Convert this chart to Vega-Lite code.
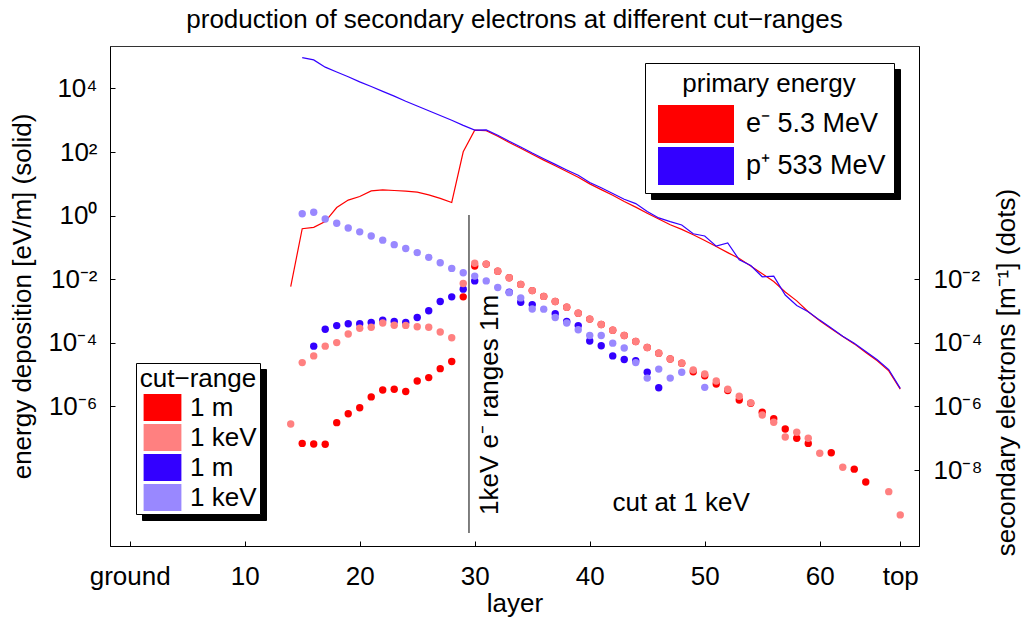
{
  "$schema": "https://vega.github.io/schema/vega-lite/v6.json",
  "width": 809,
  "height": 500,
  "autosize": {"type": "none"},
  "padding": {"left": 110, "top": 46, "right": 102, "bottom": 76},
  "background": "white",
  "title": {
    "text": "production of secondary electrons at different cut−ranges",
    "font": "Liberation Sans",
    "fontSize": 26,
    "fontWeight": "normal",
    "color": "black",
    "anchor": "middle",
    "frame": "group",
    "baseline": "alphabetic",
    "offset": -8
  },
  "datasets": {
    "lines": [
      {"layer": 14, "primary": "e⁻ 5.3 MeV", "value": 0.0059},
      {"layer": 15, "primary": "e⁻ 5.3 MeV", "value": 0.39},
      {"layer": 16, "primary": "e⁻ 5.3 MeV", "value": 0.43},
      {"layer": 17, "primary": "e⁻ 5.3 MeV", "value": 0.65},
      {"layer": 18, "primary": "e⁻ 5.3 MeV", "value": 1.8},
      {"layer": 19, "primary": "e⁻ 5.3 MeV", "value": 3.1},
      {"layer": 20, "primary": "e⁻ 5.3 MeV", "value": 4.0},
      {"layer": 21, "primary": "e⁻ 5.3 MeV", "value": 6.0},
      {"layer": 22, "primary": "e⁻ 5.3 MeV", "value": 6.5},
      {"layer": 23, "primary": "e⁻ 5.3 MeV", "value": 6.2},
      {"layer": 24, "primary": "e⁻ 5.3 MeV", "value": 5.9},
      {"layer": 25, "primary": "e⁻ 5.3 MeV", "value": 5.5},
      {"layer": 26, "primary": "e⁻ 5.3 MeV", "value": 4.5},
      {"layer": 27, "primary": "e⁻ 5.3 MeV", "value": 3.5},
      {"layer": 28, "primary": "e⁻ 5.3 MeV", "value": 2.6},
      {"layer": 29, "primary": "e⁻ 5.3 MeV", "value": 102},
      {"layer": 30, "primary": "e⁻ 5.3 MeV", "value": 490},
      {"layer": 31, "primary": "e⁻ 5.3 MeV", "value": 468},
      {"layer": 32, "primary": "e⁻ 5.3 MeV", "value": 316},
      {"layer": 33, "primary": "e⁻ 5.3 MeV", "value": 200},
      {"layer": 34, "primary": "e⁻ 5.3 MeV", "value": 132},
      {"layer": 35, "primary": "e⁻ 5.3 MeV", "value": 85},
      {"layer": 36, "primary": "e⁻ 5.3 MeV", "value": 56},
      {"layer": 37, "primary": "e⁻ 5.3 MeV", "value": 37},
      {"layer": 38, "primary": "e⁻ 5.3 MeV", "value": 24.5},
      {"layer": 39, "primary": "e⁻ 5.3 MeV", "value": 16.2},
      {"layer": 40, "primary": "e⁻ 5.3 MeV", "value": 10},
      {"layer": 41, "primary": "e⁻ 5.3 MeV", "value": 6.6},
      {"layer": 42, "primary": "e⁻ 5.3 MeV", "value": 4.4},
      {"layer": 43, "primary": "e⁻ 5.3 MeV", "value": 2.8},
      {"layer": 44, "primary": "e⁻ 5.3 MeV", "value": 1.86},
      {"layer": 45, "primary": "e⁻ 5.3 MeV", "value": 1.2},
      {"layer": 46, "primary": "e⁻ 5.3 MeV", "value": 0.79},
      {"layer": 47, "primary": "e⁻ 5.3 MeV", "value": 0.52},
      {"layer": 48, "primary": "e⁻ 5.3 MeV", "value": 0.37},
      {"layer": 49, "primary": "e⁻ 5.3 MeV", "value": 0.25},
      {"layer": 50, "primary": "e⁻ 5.3 MeV", "value": 0.166},
      {"layer": 51, "primary": "e⁻ 5.3 MeV", "value": 0.107},
      {"layer": 52, "primary": "e⁻ 5.3 MeV", "value": 0.069},
      {"layer": 53, "primary": "e⁻ 5.3 MeV", "value": 0.045},
      {"layer": 54, "primary": "e⁻ 5.3 MeV", "value": 0.026},
      {"layer": 55, "primary": "e⁻ 5.3 MeV", "value": 0.015},
      {"layer": 56, "primary": "e⁻ 5.3 MeV", "value": 0.0085},
      {"layer": 57, "primary": "e⁻ 5.3 MeV", "value": 0.004},
      {"layer": 58, "primary": "e⁻ 5.3 MeV", "value": 0.0021},
      {"layer": 59, "primary": "e⁻ 5.3 MeV", "value": 0.00095},
      {"layer": 60, "primary": "e⁻ 5.3 MeV", "value": 0.0005},
      {"layer": 61, "primary": "e⁻ 5.3 MeV", "value": 0.00028},
      {"layer": 62, "primary": "e⁻ 5.3 MeV", "value": 0.00016},
      {"layer": 63, "primary": "e⁻ 5.3 MeV", "value": 0.000093},
      {"layer": 64, "primary": "e⁻ 5.3 MeV", "value": 0.00005},
      {"layer": 65, "primary": "e⁻ 5.3 MeV", "value": 0.0000275},
      {"layer": 66, "primary": "e⁻ 5.3 MeV", "value": 0.0000132},
      {"layer": 67, "primary": "e⁻ 5.3 MeV", "value": 0.0000035},
      {"layer": 15, "primary": "p⁺ 533 MeV", "value": 93000},
      {"layer": 16, "primary": "p⁺ 533 MeV", "value": 79400},
      {"layer": 17, "primary": "p⁺ 533 MeV", "value": 46800},
      {"layer": 18, "primary": "p⁺ 533 MeV", "value": 33100},
      {"layer": 19, "primary": "p⁺ 533 MeV", "value": 23400},
      {"layer": 20, "primary": "p⁺ 533 MeV", "value": 16200},
      {"layer": 21, "primary": "p⁺ 533 MeV", "value": 11500},
      {"layer": 22, "primary": "p⁺ 533 MeV", "value": 8100},
      {"layer": 23, "primary": "p⁺ 533 MeV", "value": 5750},
      {"layer": 24, "primary": "p⁺ 533 MeV", "value": 3980},
      {"layer": 25, "primary": "p⁺ 533 MeV", "value": 2820},
      {"layer": 26, "primary": "p⁺ 533 MeV", "value": 2000},
      {"layer": 27, "primary": "p⁺ 533 MeV", "value": 1410},
      {"layer": 28, "primary": "p⁺ 533 MeV", "value": 1000},
      {"layer": 29, "primary": "p⁺ 533 MeV", "value": 690},
      {"layer": 30, "primary": "p⁺ 533 MeV", "value": 490},
      {"layer": 31, "primary": "p⁺ 533 MeV", "value": 500},
      {"layer": 32, "primary": "p⁺ 533 MeV", "value": 340},
      {"layer": 33, "primary": "p⁺ 533 MeV", "value": 219},
      {"layer": 34, "primary": "p⁺ 533 MeV", "value": 145},
      {"layer": 35, "primary": "p⁺ 533 MeV", "value": 93},
      {"layer": 36, "primary": "p⁺ 533 MeV", "value": 62},
      {"layer": 37, "primary": "p⁺ 533 MeV", "value": 41},
      {"layer": 38, "primary": "p⁺ 533 MeV", "value": 27.5},
      {"layer": 39, "primary": "p⁺ 533 MeV", "value": 18.6},
      {"layer": 40, "primary": "p⁺ 533 MeV", "value": 11},
      {"layer": 41, "primary": "p⁺ 533 MeV", "value": 7.6},
      {"layer": 42, "primary": "p⁺ 533 MeV", "value": 5.0},
      {"layer": 43, "primary": "p⁺ 533 MeV", "value": 3.3},
      {"layer": 44, "primary": "p⁺ 533 MeV", "value": 2.4},
      {"layer": 45, "primary": "p⁺ 533 MeV", "value": 1.35},
      {"layer": 46, "primary": "p⁺ 533 MeV", "value": 0.85},
      {"layer": 47, "primary": "p⁺ 533 MeV", "value": 0.65},
      {"layer": 48, "primary": "p⁺ 533 MeV", "value": 0.51},
      {"layer": 49, "primary": "p⁺ 533 MeV", "value": 0.27},
      {"layer": 50, "primary": "p⁺ 533 MeV", "value": 0.23},
      {"layer": 51, "primary": "p⁺ 533 MeV", "value": 0.11},
      {"layer": 52, "primary": "p⁺ 533 MeV", "value": 0.14},
      {"layer": 53, "primary": "p⁺ 533 MeV", "value": 0.041},
      {"layer": 54, "primary": "p⁺ 533 MeV", "value": 0.027},
      {"layer": 55, "primary": "p⁺ 533 MeV", "value": 0.012},
      {"layer": 56, "primary": "p⁺ 533 MeV", "value": 0.0126},
      {"layer": 57, "primary": "p⁺ 533 MeV", "value": 0.0032},
      {"layer": 58, "primary": "p⁺ 533 MeV", "value": 0.0015},
      {"layer": 59, "primary": "p⁺ 533 MeV", "value": 0.00095},
      {"layer": 60, "primary": "p⁺ 533 MeV", "value": 0.00052},
      {"layer": 61, "primary": "p⁺ 533 MeV", "value": 0.000295},
      {"layer": 62, "primary": "p⁺ 533 MeV", "value": 0.000162},
      {"layer": 63, "primary": "p⁺ 533 MeV", "value": 0.000098},
      {"layer": 64, "primary": "p⁺ 533 MeV", "value": 0.000054},
      {"layer": 65, "primary": "p⁺ 533 MeV", "value": 0.0000295},
      {"layer": 66, "primary": "p⁺ 533 MeV", "value": 0.0000145},
      {"layer": 67, "primary": "p⁺ 533 MeV", "value": 0.0000037}
    ],
    "dots": [
      {"layer": 15, "series": "e- 1 m", "value": 6.9e-8},
      {"layer": 16, "series": "e- 1 m", "value": 6.6e-8},
      {"layer": 17, "series": "e- 1 m", "value": 6.5e-8},
      {"layer": 18, "series": "e- 1 m", "value": 3.1e-7},
      {"layer": 19, "series": "e- 1 m", "value": 5.9e-7},
      {"layer": 20, "series": "e- 1 m", "value": 9.1e-7},
      {"layer": 21, "series": "e- 1 m", "value": 2.0e-6},
      {"layer": 22, "series": "e- 1 m", "value": 3.3e-6},
      {"layer": 23, "series": "e- 1 m", "value": 3.5e-6},
      {"layer": 24, "series": "e- 1 m", "value": 2.95e-6},
      {"layer": 25, "series": "e- 1 m", "value": 6.3e-6},
      {"layer": 26, "series": "e- 1 m", "value": 8.1e-6},
      {"layer": 27, "series": "e- 1 m", "value": 1.55e-5},
      {"layer": 28, "series": "e- 1 m", "value": 2.6e-5},
      {"layer": 29, "series": "e- 1 m", "value": 2.8e-3},
      {"layer": 30, "series": "e- 1 m", "value": 2.6e-2},
      {"layer": 31, "series": "e- 1 m", "value": 3.0e-2},
      {"layer": 32, "series": "e- 1 m", "value": 1.8e-2},
      {"layer": 33, "series": "e- 1 m", "value": 1.12e-2},
      {"layer": 34, "series": "e- 1 m", "value": 6.9e-3},
      {"layer": 35, "series": "e- 1 m", "value": 4.4e-3},
      {"layer": 36, "series": "e- 1 m", "value": 2.9e-3},
      {"layer": 37, "series": "e- 1 m", "value": 2.0e-3},
      {"layer": 38, "series": "e- 1 m", "value": 1.32e-3},
      {"layer": 39, "series": "e- 1 m", "value": 8.5e-4},
      {"layer": 40, "series": "e- 1 m", "value": 5.6e-4},
      {"layer": 41, "series": "e- 1 m", "value": 3.8e-4},
      {"layer": 42, "series": "e- 1 m", "value": 2.5e-4},
      {"layer": 43, "series": "e- 1 m", "value": 1.7e-4},
      {"layer": 44, "series": "e- 1 m", "value": 1.1e-4},
      {"layer": 45, "series": "e- 1 m", "value": 7.2e-5},
      {"layer": 46, "series": "e- 1 m", "value": 4.7e-5},
      {"layer": 47, "series": "e- 1 m", "value": 3.1e-5},
      {"layer": 48, "series": "e- 1 m", "value": 2.3e-5},
      {"layer": 49, "series": "e- 1 m", "value": 1.23e-5},
      {"layer": 50, "series": "e- 1 m", "value": 9.3e-6},
      {"layer": 51, "series": "e- 1 m", "value": 5.1e-6},
      {"layer": 52, "series": "e- 1 m", "value": 3.2e-6},
      {"layer": 53, "series": "e- 1 m", "value": 1.6e-6},
      {"layer": 54, "series": "e- 1 m", "value": 1.26e-6},
      {"layer": 55, "series": "e- 1 m", "value": 6.6e-7},
      {"layer": 56, "series": "e- 1 m", "value": 4.1e-7},
      {"layer": 57, "series": "e- 1 m", "value": 1.95e-7},
      {"layer": 58, "series": "e- 1 m", "value": 1.0e-7},
      {"layer": 59, "series": "e- 1 m", "value": 6.9e-8},
      {"layer": 61, "series": "e- 1 m", "value": 3.5e-8},
      {"layer": 63, "series": "e- 1 m", "value": 1.07e-8},
      {"layer": 64, "series": "e- 1 m", "value": 4.2e-9},
      {"layer": 16, "series": "p+ 1 m", "value": 7.9e-5},
      {"layer": 17, "series": "p+ 1 m", "value": 2.7e-4},
      {"layer": 18, "series": "p+ 1 m", "value": 3.5e-4},
      {"layer": 19, "series": "p+ 1 m", "value": 4.0e-4},
      {"layer": 20, "series": "p+ 1 m", "value": 4.0e-4},
      {"layer": 21, "series": "p+ 1 m", "value": 4.4e-4},
      {"layer": 22, "series": "p+ 1 m", "value": 5.2e-4},
      {"layer": 23, "series": "p+ 1 m", "value": 4.7e-4},
      {"layer": 24, "series": "p+ 1 m", "value": 4.4e-4},
      {"layer": 25, "series": "p+ 1 m", "value": 6.3e-4},
      {"layer": 26, "series": "p+ 1 m", "value": 1.02e-3},
      {"layer": 27, "series": "p+ 1 m", "value": 2.0e-3},
      {"layer": 28, "series": "p+ 1 m", "value": 2.8e-3},
      {"layer": 29, "series": "p+ 1 m", "value": 4.9e-3},
      {"layer": 30, "series": "p+ 1 m", "value": 8.9e-3},
      {"layer": 33, "series": "p+ 1 m", "value": 3.9e-3},
      {"layer": 34, "series": "p+ 1 m", "value": 1.9e-3},
      {"layer": 35, "series": "p+ 1 m", "value": 1.6e-3},
      {"layer": 37, "series": "p+ 1 m", "value": 8.3e-4},
      {"layer": 38, "series": "p+ 1 m", "value": 4.7e-4},
      {"layer": 39, "series": "p+ 1 m", "value": 3.5e-4},
      {"layer": 40, "series": "p+ 1 m", "value": 1.15e-4},
      {"layer": 41, "series": "p+ 1 m", "value": 8.1e-5},
      {"layer": 42, "series": "p+ 1 m", "value": 3.9e-5},
      {"layer": 43, "series": "p+ 1 m", "value": 3.0e-5},
      {"layer": 44, "series": "p+ 1 m", "value": 2.75e-5},
      {"layer": 45, "series": "p+ 1 m", "value": 1.2e-5},
      {"layer": 46, "series": "p+ 1 m", "value": 3.9e-6},
      {"layer": 14, "series": "e- 1 keV", "value": 2.8e-7},
      {"layer": 15, "series": "e- 1 keV", "value": 2.4e-5},
      {"layer": 16, "series": "e- 1 keV", "value": 3.9e-5},
      {"layer": 17, "series": "e- 1 keV", "value": 7.9e-5},
      {"layer": 18, "series": "e- 1 keV", "value": 1.02e-4},
      {"layer": 19, "series": "e- 1 keV", "value": 1.9e-4},
      {"layer": 20, "series": "e- 1 keV", "value": 2.9e-4},
      {"layer": 21, "series": "e- 1 keV", "value": 3.1e-4},
      {"layer": 22, "series": "e- 1 keV", "value": 4.2e-4},
      {"layer": 23, "series": "e- 1 keV", "value": 3.6e-4},
      {"layer": 24, "series": "e- 1 keV", "value": 3.55e-4},
      {"layer": 25, "series": "e- 1 keV", "value": 3.2e-4},
      {"layer": 26, "series": "e- 1 keV", "value": 3.1e-4},
      {"layer": 27, "series": "e- 1 keV", "value": 2.2e-4},
      {"layer": 28, "series": "e- 1 keV", "value": 1.45e-4},
      {"layer": 29, "series": "e- 1 keV", "value": 7.4e-3},
      {"layer": 30, "series": "e- 1 keV", "value": 3.2e-2},
      {"layer": 31, "series": "e- 1 keV", "value": 3.0e-2},
      {"layer": 32, "series": "e- 1 keV", "value": 1.8e-2},
      {"layer": 33, "series": "e- 1 keV", "value": 1.12e-2},
      {"layer": 34, "series": "e- 1 keV", "value": 6.9e-3},
      {"layer": 35, "series": "e- 1 keV", "value": 4.4e-3},
      {"layer": 36, "series": "e- 1 keV", "value": 2.9e-3},
      {"layer": 37, "series": "e- 1 keV", "value": 2.0e-3},
      {"layer": 38, "series": "e- 1 keV", "value": 1.32e-3},
      {"layer": 39, "series": "e- 1 keV", "value": 8.5e-4},
      {"layer": 40, "series": "e- 1 keV", "value": 5.6e-4},
      {"layer": 41, "series": "e- 1 keV", "value": 3.8e-4},
      {"layer": 42, "series": "e- 1 keV", "value": 2.5e-4},
      {"layer": 43, "series": "e- 1 keV", "value": 1.7e-4},
      {"layer": 44, "series": "e- 1 keV", "value": 1.1e-4},
      {"layer": 45, "series": "e- 1 keV", "value": 7.2e-5},
      {"layer": 46, "series": "e- 1 keV", "value": 4.7e-5},
      {"layer": 47, "series": "e- 1 keV", "value": 3.1e-5},
      {"layer": 48, "series": "e- 1 keV", "value": 2.3e-5},
      {"layer": 49, "series": "e- 1 keV", "value": 1.4e-5},
      {"layer": 50, "series": "e- 1 keV", "value": 1.05e-5},
      {"layer": 51, "series": "e- 1 keV", "value": 6.3e-6},
      {"layer": 52, "series": "e- 1 keV", "value": 3.5e-6},
      {"layer": 53, "series": "e- 1 keV", "value": 2.1e-6},
      {"layer": 54, "series": "e- 1 keV", "value": 1.3e-6},
      {"layer": 55, "series": "e- 1 keV", "value": 5.4e-7},
      {"layer": 56, "series": "e- 1 keV", "value": 3.2e-7},
      {"layer": 57, "series": "e- 1 keV", "value": 1.1e-7},
      {"layer": 58, "series": "e- 1 keV", "value": 1.55e-7},
      {"layer": 59, "series": "e- 1 keV", "value": 1.0e-7},
      {"layer": 60, "series": "e- 1 keV", "value": 3.4e-8},
      {"layer": 62, "series": "e- 1 keV", "value": 1.23e-8},
      {"layer": 66, "series": "e- 1 keV", "value": 2.1e-9},
      {"layer": 67, "series": "e- 1 keV", "value": 3.9e-10},
      {"layer": 15, "series": "p+ 1 keV", "value": 1.15},
      {"layer": 16, "series": "p+ 1 keV", "value": 1.29},
      {"layer": 17, "series": "p+ 1 keV", "value": 0.79},
      {"layer": 18, "series": "p+ 1 keV", "value": 0.58},
      {"layer": 19, "series": "p+ 1 keV", "value": 0.41},
      {"layer": 20, "series": "p+ 1 keV", "value": 0.31},
      {"layer": 21, "series": "p+ 1 keV", "value": 0.23},
      {"layer": 22, "series": "p+ 1 keV", "value": 0.17},
      {"layer": 23, "series": "p+ 1 keV", "value": 0.123},
      {"layer": 24, "series": "p+ 1 keV", "value": 0.093},
      {"layer": 25, "series": "p+ 1 keV", "value": 0.069},
      {"layer": 26, "series": "p+ 1 keV", "value": 0.049},
      {"layer": 27, "series": "p+ 1 keV", "value": 0.033},
      {"layer": 28, "series": "p+ 1 keV", "value": 0.022},
      {"layer": 29, "series": "p+ 1 keV", "value": 0.016},
      {"layer": 30, "series": "p+ 1 keV", "value": 0.0126},
      {"layer": 31, "series": "p+ 1 keV", "value": 8.9e-3},
      {"layer": 32, "series": "p+ 1 keV", "value": 5.5e-3},
      {"layer": 33, "series": "p+ 1 keV", "value": 3.8e-3},
      {"layer": 34, "series": "p+ 1 keV", "value": 2.6e-3},
      {"layer": 35, "series": "p+ 1 keV", "value": 1.17e-3},
      {"layer": 36, "series": "p+ 1 keV", "value": 1.15e-3},
      {"layer": 37, "series": "p+ 1 keV", "value": 6.3e-4},
      {"layer": 38, "series": "p+ 1 keV", "value": 4.2e-4},
      {"layer": 39, "series": "p+ 1 keV", "value": 2.6e-4},
      {"layer": 40, "series": "p+ 1 keV", "value": 1.7e-4},
      {"layer": 41, "series": "p+ 1 keV", "value": 1.7e-4},
      {"layer": 42, "series": "p+ 1 keV", "value": 9.8e-5},
      {"layer": 43, "series": "p+ 1 keV", "value": 6.9e-5},
      {"layer": 44, "series": "p+ 1 keV", "value": 2.4e-5},
      {"layer": 45, "series": "p+ 1 keV", "value": 7.8e-6},
      {"layer": 46, "series": "p+ 1 keV", "value": 1.5e-5},
      {"layer": 47, "series": "p+ 1 keV", "value": 7.8e-6},
      {"layer": 48, "series": "p+ 1 keV", "value": 1.2e-5},
      {"layer": 50, "series": "p+ 1 keV", "value": 4.0e-6}
    ]
  },
  "layer": [
    {
      "layer": [
        {
          "data": {"name": "lines"},
          "mark": {"type": "point", "opacity": 0},
          "encoding": {
            "x": {"field": "layer", "type": "quantitative", "scale": {"domain": [-1.713, 68.63], "nice": false, "zero": false},
              "axis": {"title": "layer", "values": [0, 10, 20, 30, 40, 50, 60, 67], "labelExpr": "datum.value == 0 ? 'ground' : datum.value == 67 ? 'top' : datum.label", "tickSize": -5, "labelPadding": 22, "labelFlush": false, "labelOverlap": false, "titleY": 65, "titleBaseline": "alphabetic"}},
            "y": {"field": "value", "type": "quantitative", "scale": {"type": "log", "domain": [4.1e-11, 216800], "nice": false},
              "axis": {"orient": "left", "title": "energy deposition [eV/m] (solid)", "values": [10000, 100, 1, 0.01, 0.0001, 0.000001], "labelExpr": "datum.value >= 1000 ? '10⁴' : datum.value >= 10 ? '10²' : datum.value >= 0.1 ? '10⁰' : datum.value >= 0.001 ? '10⁻²' : datum.value >= 0.00001 ? '10⁻⁴' : '10⁻⁶'", "tickSize": -5, "labelPadding": 18, "labelOverlap": false, "labelFlush": false, "titleAngle": 270, "titleX": -80, "titleY": 250, "titleAlign": "center", "titleBaseline": "alphabetic"}},
            "strokeDash": {
              "field": "primary",
              "type": "nominal",
              "sort": "descending",
              "legend": {
                "title": "primary energy",
                "legendX": 541,
                "legendY": 23,
                "padding": 8,
                "symbolType": "M-2,-1H2V1H-2Z",
                "symbolSize": 1444,
                "symbolOffset": 24,
                "labelOffset": 31,
                "labelFontSize": 27,
                "rowPadding": 4,
                "titlePadding": 8,
                "fillColor": "black",
                "strokeColor": "black"
              }
            }
          }
        },
        {
          "data": {"name": "dots"},
          "mark": {"type": "point", "opacity": 0},
          "encoding": {
            "x": {"field": "layer", "type": "quantitative", "scale": {"domain": [-1.713, 68.63], "nice": false, "zero": false},
              "axis": {"title": "layer", "values": [0, 10, 20, 30, 40, 50, 60, 67], "labelExpr": "datum.value == 0 ? 'ground' : datum.value == 67 ? 'top' : datum.label", "tickSize": -5, "labelPadding": 22, "labelFlush": false, "labelOverlap": false, "titleY": 65, "titleBaseline": "alphabetic"}},
            "y": {"field": "value", "type": "quantitative", "scale": {"type": "log", "domain": [4.1e-11, 216800], "nice": false},
              "axis": {"orient": "left", "title": "energy deposition [eV/m] (solid)", "values": [10000, 100, 1, 0.01, 0.0001, 0.000001], "labelExpr": "datum.value >= 1000 ? '10⁴' : datum.value >= 10 ? '10²' : datum.value >= 0.1 ? '10⁰' : datum.value >= 0.001 ? '10⁻²' : datum.value >= 0.00001 ? '10⁻⁴' : '10⁻⁶'", "tickSize": -5, "labelPadding": 18, "labelOverlap": false, "labelFlush": false, "titleAngle": 270, "titleX": -80, "titleY": 250, "titleAlign": "center", "titleBaseline": "alphabetic"}},
            "shape": {
              "field": "series",
              "type": "nominal",
              "sort": "descending",
              "scale": {"range": ["M-1.4,-1H1.4V1H-1.4Z", "M-1.4,-1H1.4V1H-1.4Z", "M-1.4,-1H1.4V1H-1.4Z", "M-1.4,-1H1.4V1H-1.4Z"]},
              "legend": {
                "title": "cut−range",
                "legendX": 32,
                "legendY": 323,
                "padding": 3,
                "symbolSize": 729,
                "symbolOffset": 10,
                "labelOffset": 14,
                "rowPadding": 3,
                "titlePadding": 2,
                "labelExpr": "slice(datum.label, 3)",
                "fillColor": "black",
                "strokeColor": "black"
              }
            }
          }
        },
        {
          "data": {"name": "lines"},
          "mark": {"type": "line", "strokeWidth": 1.2},
          "encoding": {
            "x": {"field": "layer", "type": "quantitative", "scale": {"domain": [-1.713, 68.63], "nice": false, "zero": false},
              "axis": {"title": "layer", "values": [0, 10, 20, 30, 40, 50, 60, 67], "labelExpr": "datum.value == 0 ? 'ground' : datum.value == 67 ? 'top' : datum.label", "tickSize": -5, "labelPadding": 22, "labelFlush": false, "labelOverlap": false, "titleY": 65, "titleBaseline": "alphabetic"}},
            "y": {"field": "value", "type": "quantitative", "scale": {"type": "log", "domain": [4.1e-11, 216800], "nice": false},
              "axis": {"orient": "left", "title": "energy deposition [eV/m] (solid)", "values": [10000, 100, 1, 0.01, 0.0001, 0.000001], "labelExpr": "datum.value >= 1000 ? '10⁴' : datum.value >= 10 ? '10²' : datum.value >= 0.1 ? '10⁰' : datum.value >= 0.001 ? '10⁻²' : datum.value >= 0.00001 ? '10⁻⁴' : '10⁻⁶'", "tickSize": -5, "labelPadding": 18, "labelOverlap": false, "labelFlush": false, "titleAngle": 270, "titleX": -80, "titleY": 250, "titleAlign": "center", "titleBaseline": "alphabetic"}},
            "stroke": {
              "field": "primary",
              "type": "nominal",
              "scale": {"range": ["#ff0000", "#3300ff"]},
              "legend": null
            }
          }
        },
        {
          "data": {"name": "lines"},
          "mark": {"type": "point", "filled": true, "opacity": 0},
          "encoding": {
            "x": {"field": "layer", "type": "quantitative", "scale": {"domain": [-1.713, 68.63], "nice": false, "zero": false},
              "axis": {"title": "layer", "values": [0, 10, 20, 30, 40, 50, 60, 67], "labelExpr": "datum.value == 0 ? 'ground' : datum.value == 67 ? 'top' : datum.label", "tickSize": -5, "labelPadding": 22, "labelFlush": false, "labelOverlap": false, "titleY": 65, "titleBaseline": "alphabetic"}},
            "y": {"field": "value", "type": "quantitative", "scale": {"type": "log", "domain": [4.1e-11, 216800], "nice": false},
              "axis": {"orient": "left", "title": "energy deposition [eV/m] (solid)", "values": [10000, 100, 1, 0.01, 0.0001, 0.000001], "labelExpr": "datum.value >= 1000 ? '10⁴' : datum.value >= 10 ? '10²' : datum.value >= 0.1 ? '10⁰' : datum.value >= 0.001 ? '10⁻²' : datum.value >= 0.00001 ? '10⁻⁴' : '10⁻⁶'", "tickSize": -5, "labelPadding": 18, "labelOverlap": false, "labelFlush": false, "titleAngle": 270, "titleX": -80, "titleY": 250, "titleAlign": "center", "titleBaseline": "alphabetic"}},
            "color": {
              "field": "primary",
              "type": "nominal",
              "scale": {"domain": ["e⁻ 5.3 MeV", "p⁺ 533 MeV"], "range": ["#ff0000", "#3300ff"]},
              "legend": {
                "title": "primary energy",
                "legendX": 535,
                "legendY": 17,
                "padding": 8,
                "symbolType": "M-2,-1H2V1H-2Z",
                "symbolSize": 1444,
                "symbolOffset": 24,
                "labelOffset": 31,
                "labelFontSize": 27,
                "rowPadding": 4,
                "titlePadding": 8
              }
            }
          }
        },
        {
          "data": {"values": [{}]},
          "mark": {"type": "rule", "color": "#555555", "strokeWidth": 1.5},
          "encoding": {
            "x": {"datum": 29.5},
            "y": {"datum": 1.05},
            "y2": {"datum": 1.05e-10}
          }
        },
        {
          "data": {"values": [{"label": "1keV e⁻ ranges 1m"}]},
          "mark": {"type": "text", "angle": 270, "fontSize": 26, "align": "center", "baseline": "middle", "color": "black"},
          "encoding": {
            "x": {"datum": 31.3},
            "y": {"datum": 0.00000112},
            "text": {"field": "label"}
          }
        },
        {
          "data": {"values": [{"label": "cut at 1 keV"}]},
          "mark": {"type": "text", "fontSize": 26, "align": "center", "baseline": "middle", "color": "black"},
          "encoding": {
            "x": {"datum": 47.95},
            "y": {"datum": 0.0000000009},
            "text": {"field": "label"}
          }
        }
      ]
    },
    {
      "data": {"name": "dots"},
      "mark": {"type": "point", "filled": true, "opacity": 1, "size": 55, "strokeWidth": 0},
      "encoding": {
        "x": {"field": "layer", "type": "quantitative", "scale": {"domain": [-1.713, 68.63], "nice": false, "zero": false},
          "axis": {"title": "layer", "values": [0, 10, 20, 30, 40, 50, 60, 67], "labelExpr": "datum.value == 0 ? 'ground' : datum.value == 67 ? 'top' : datum.label", "tickSize": -5, "labelPadding": 22, "labelFlush": false, "labelOverlap": false, "titleY": 65, "titleBaseline": "alphabetic"}},
        "y": {
          "field": "value",
          "type": "quantitative",
          "scale": {"type": "log", "domain": [4.1e-11, 216800], "nice": false},
          "axis": {
            "orient": "right",
            "title": "secondary electrons [m⁻¹]  (dots)",
            "values": [0.01, 0.0001, 0.000001, 0.00000001],
            "labelExpr": "datum.value >= 0.001 ? '10⁻²' : datum.value >= 0.00001 ? '10⁻⁴' : datum.value >= 0.0000001 ? '10⁻⁶' : '10⁻⁸'",
            "tickSize": -5,
            "labelPadding": 19,
            "labelOverlap": false,
            "labelFlush": false,
            "titleAngle": 270,
            "titleX": 95,
            "titleY": 326,
            "titleAlign": "center",
            "titleBaseline": "alphabetic"
          }
        },
        "fill": {
          "field": "series",
          "type": "nominal",
          "scale": {"domain": ["e- 1 m", "e- 1 keV", "p+ 1 m", "p+ 1 keV"], "range": ["#ff0000", "#ff8080", "#3300ff", "#9988ff"]},
          "legend": {
            "title": "cut−range",
            "legendX": 26,
            "legendY": 317,
            "padding": 3,
            "symbolType": "M-1.4,-1H1.4V1H-1.4Z",
            "symbolSize": 729,
            "symbolOffset": 10,
            "labelOffset": 14,
            "rowPadding": 3,
            "titlePadding": 2,
            "labelExpr": "slice(datum.label, 3)"
          }
        }
      }
    }
  ],
  "resolve": {"axis": {"y": "independent"}},
  "config": {
    "font": "Liberation Sans",
    "view": {"stroke": "#333333", "strokeWidth": 1},
    "axis": {
      "grid": false,
      "labelFont": "Liberation Sans",
      "labelFontSize": 26,
      "labelColor": "black",
      "titleFont": "Liberation Sans",
      "titleFontSize": 26,
      "titleFontWeight": "normal",
      "titleColor": "black",
      "domainColor": "black",
      "tickColor": "black",
      "domainWidth": 1,
      "tickWidth": 1
    },
    "legend": {
      "orient": "none",
      "direction": "vertical",
      "labelFont": "Liberation Sans",
      "labelFontSize": 26,
      "labelColor": "black",
      "labelLimit": 0,
      "titleFont": "Liberation Sans",
      "titleFontSize": 26,
      "titleFontWeight": "normal",
      "titleColor": "black",
      "titleAnchor": "middle",
      "titleLimit": 0,
      "symbolStrokeWidth": 0,
      "symbolOpacity": 1,
      "strokeColor": "black",
      "fillColor": "white"
    }
  }
}
